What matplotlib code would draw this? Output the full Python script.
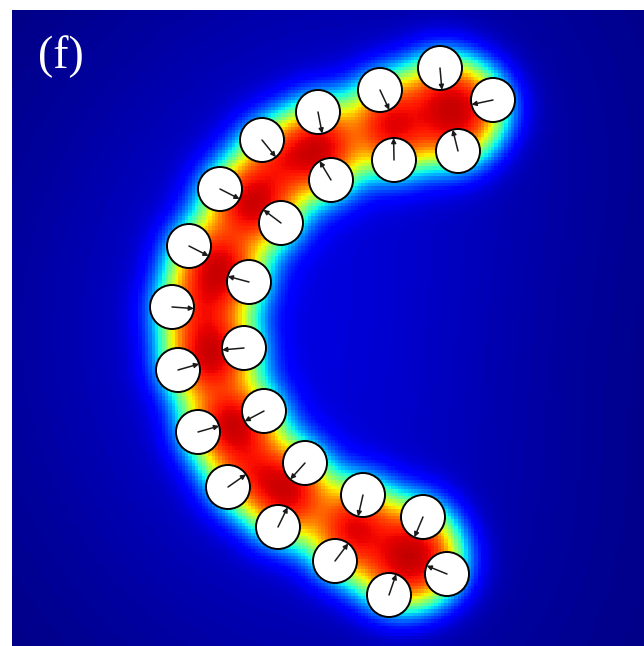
import numpy as np
import matplotlib
matplotlib.use('Agg')
import matplotlib.pyplot as plt
from matplotlib.patches import Circle

# particle centres (x, y) in frame pixels, y pointing down
px = [440, 493, 380, 318, 262, 220, 189, 172, 178, 198, 228, 278, 335, 389, 447,
      423, 363, 305, 264, 244, 249, 281, 331, 394, 458]
py = [68, 100, 90, 112, 140, 189, 246, 307, 370, 432, 487, 527, 561, 595, 574,
      517, 495, 463, 411, 348, 282, 223, 180, 160, 151]
# orientation of each particle (degrees, counter-clockwise, y up)
theta = [-85, -168, -65, -79, -51, -27, -27, -4, 16, 16, 35, 64, 53, 71, 158,
         -113, -103, -132, -152, -175, 165, 143, 121, 91, 104]

radius = 22.0
x0, x1 = 12, 644
y0, y1 = 10, 646

px = np.array(px, float)
py = np.array(py, float)
th = np.deg2rad(theta)
ux = np.cos(th)
uy = -np.sin(th)

# emission points on the particle surface
tx = px + radius * ux
ty = py + radius * uy

# concentration field on a coarse grid
nx, ny = 190, 191
gx = np.linspace(x0, x1, nx)
gy = np.linspace(y0, y1, ny)
X, Y = np.meshgrid(gx, gy)

s_near = 26.0
s_far = 170.0
field = np.zeros_like(X)
broad = np.zeros_like(X)
for i in range(len(px)):
    d2 = (X - tx[i])**2 + (Y - ty[i])**2
    field += np.exp(-d2 / (2 * s_near**2))
    broad += np.exp(-d2 / (2 * s_far**2))
# saturating response so the band between the rows stays uniformly high
field = np.tanh(field / 1.2)
broad = broad / broad.max()
field = field + 0.09 * broad

fig = plt.figure(figsize=(6.44, 6.46), dpi=100)
ax = fig.add_axes([x0 / 644, 0, (x1 - x0) / 644, (y1 - y0) / 646])
ax.imshow(field, cmap='jet', vmin=0, vmax=1.08, extent=[x0, x1, y1, y0],
          origin='upper', interpolation='nearest', aspect='auto')

for i in range(len(px)):
    ax.add_patch(Circle((px[i], py[i]), radius, facecolor='white',
                        edgecolor='black', lw=1.4, zorder=3))
    ax.annotate('', xy=(tx[i], ty[i]), xytext=(px[i], py[i]),
                arrowprops=dict(arrowstyle='-|>', color='#1a1a1a', lw=1.1,
                                mutation_scale=7, shrinkA=0, shrinkB=0),
                zorder=4)

ax.text(61, 57, '(f)', color='white', fontsize=33, family='Liberation Serif',
        ha='center', va='center', zorder=5)

ax.set_xlim(x0, x1)
ax.set_ylim(y1, y0)
ax.axis('off')

fig.savefig('out.png', dpi=100)
